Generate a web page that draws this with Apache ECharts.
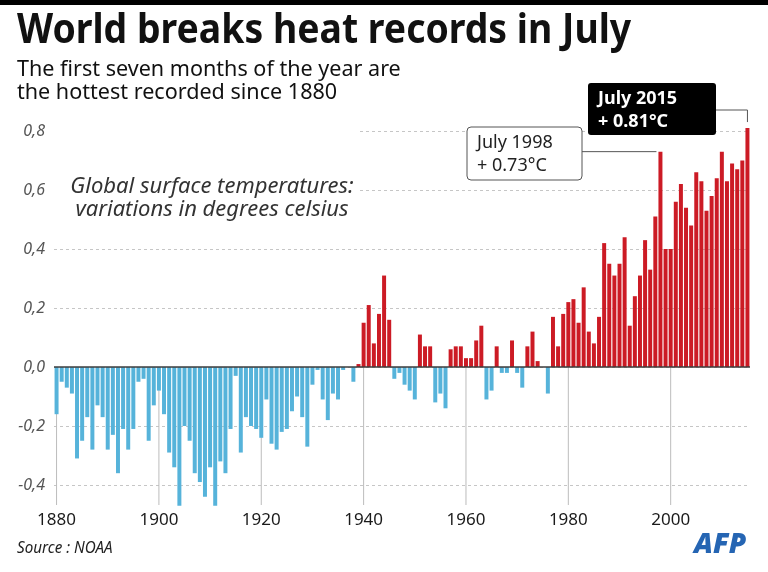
<!DOCTYPE html>
<html lang="en">
<head>
<meta charset="UTF-8">
<title>World breaks heat records in July</title>
<script src="https://cdn.jsdelivr.net/npm/echarts@6/dist/echarts.min.js"></script>
<style>
    html, body { margin: 0; padding: 0; background: #fff; }
    #chart { width: 768px; height: 572px; }
</style>
</head>
<body>
<div id="chart"></div>
<script>
    // July temperature anomalies (deg C), NOAA, 1880-2015
    var years = [];
    for (var y = 1880; y <= 2015; y++) years.push(String(y));

    var anomalies = [
        -0.16, -0.05, -0.07, -0.09, -0.31, -0.25, -0.17, -0.28, -0.13, -0.17,   // 1880
        -0.28, -0.23, -0.36, -0.21, -0.28, -0.21, -0.05, -0.04, -0.25, -0.13,   // 1890
        -0.08, -0.16, -0.29, -0.34, -0.47, -0.20, -0.25, -0.36, -0.39, -0.44,   // 1900
        -0.34, -0.47, -0.32, -0.36, -0.21, -0.03, -0.29, -0.17, -0.20, -0.21,   // 1910
        -0.24, -0.11, -0.26, -0.28, -0.22, -0.21, -0.15, -0.10, -0.17, -0.27,   // 1920
        -0.06, -0.01, -0.11, -0.18, -0.09, -0.11, -0.01, 0.00, -0.05, 0.01,     // 1930
        0.15, 0.21, 0.08, 0.18, 0.31, 0.16, -0.04, -0.02, -0.06, -0.08,         // 1940
        -0.11, 0.11, 0.07, 0.07, -0.12, -0.09, -0.14, 0.06, 0.07, 0.07,         // 1950
        0.03, 0.03, 0.09, 0.14, -0.11, -0.08, 0.07, -0.02, -0.02, 0.09,         // 1960
        -0.02, -0.07, 0.07, 0.12, 0.02, 0.00, -0.09, 0.17, 0.07, 0.18,          // 1970
        0.22, 0.23, 0.15, 0.27, 0.12, 0.08, 0.17, 0.42, 0.35, 0.31,             // 1980
        0.35, 0.44, 0.14, 0.24, 0.31, 0.43, 0.33, 0.51, 0.73, 0.40,             // 1990
        0.40, 0.56, 0.62, 0.54, 0.48, 0.66, 0.63, 0.53, 0.58, 0.64,             // 2000
        0.73, 0.63, 0.69, 0.67, 0.70, 0.81                                      // 2010
    ];

    var yearTicks = ['1880', '1900', '1920', '1940', '1960', '1980', '2000'];
    var yMin = -0.4, yMax = 0.8, yStep = 0.2;

    var records = [
        { year: '1998', value: 0.73 },
        { year: '2015', value: 0.81 }
    ];

    var BLUE = '#56b3da';
    var RED = '#cc1b25';
    var FONT = '"Noto Sans", sans-serif';

    var gridTop = 131, gridBottomY = 485, axisOffset = 20;

    function isTickYear(index, value) {
        return yearTicks.indexOf(value) >= 0;
    }

    var myChart = echarts.init(document.getElementById('chart'));
    var option = {
        backgroundColor: '#fff',
        animation: false,
        grid: { left: 54, right: 18, top: gridTop, bottom: 572 - gridBottomY },
        xAxis: {
            type: 'category',
            data: years,
            offset: axisOffset,
            axisLine: { show: false },
            axisTick: { show: false },
            axisLabel: {
                interval: isTickYear,
                margin: 7,
                fontSize: 17,
                color: '#1a1a1a',
                fontFamily: FONT
            }
        },
        yAxis: {
            type: 'value',
            min: yMin,
            max: yMax,
            interval: yStep,
            axisLine: { show: false },
            axisTick: { show: false },
            splitLine: { lineStyle: { color: '#c6c6c6', type: [3, 3], width: 1 } },
            axisLabel: {
                margin: 9,
                fontSize: 16,
                fontStyle: 'italic',
                color: '#555',
                fontFamily: FONT,
                formatter: function (v) {
                    if (Math.abs(v) < 1e-9) return '0,0';
                    return v.toFixed(1).replace('.', ',');
                }
            }
        },
        series: [{
            // grey year markers running from the zero line down past the plot
            type: 'custom',
            z: 1,
            silent: true,
            data: yearTicks.map(function (t) { return [t, 0]; }),
            renderItem: function (params, api) {
                var top = api.coord([api.value(0), 0]);
                var bot = api.coord([api.value(0), yMin]);
                return {
                    type: 'line',
                    shape: { x1: top[0], y1: top[1], x2: top[0], y2: bot[1] + axisOffset },
                    style: { stroke: '#bcbcbc', lineWidth: 1 }
                };
            }
        }, {
            type: 'bar',
            z: 2,
            data: anomalies,
            barCategoryGap: '22%',
            clip: false,
            itemStyle: {
                color: function (p) { return p.value >= 0 ? RED : BLUE; }
            },
            markLine: {
                silent: true,
                symbol: ['none', 'none'],
                label: { show: false },
                lineStyle: { color: '#3c3c3c', width: 1.5, type: 'solid' },
                data: [{ yAxis: 0 }]
            }
        }]
    };
    myChart.setOption(option);

    // anchors of the two record bars, from the chart's own scales
    var p98 = myChart.convertToPixel({ seriesIndex: 1 }, [records[0].year, records[0].value]);
    var p15 = myChart.convertToPixel({ seriesIndex: 1 }, [records[1].year, records[1].value]);

    function txt(x, y, text, font, fill, extra) {
        var st = { x: x, y: y, text: text, font: font, fill: fill, verticalAlign: 'middle', align: 'left' };
        var el = { type: 'text', z: 10, style: st };
        if (extra) for (var k in extra) el[k] = extra[k];
        return el;
    }

    myChart.setOption({
        graphic: [
            { type: 'rect', z: 10, shape: { x: 0, y: 0, width: 768, height: 5 }, style: { fill: '#000' } },
            // white patch behind the italic caption
            { type: 'rect', z: 1, shape: { x: 50, y: 124, width: 308, height: 98 }, style: { fill: '#fff' } },
            txt(17, 31, 'World breaks heat records in July', 'bold 42px ' + FONT, '#111', { scaleX: 0.89, originX: 17 }),
            txt(17, 70, 'The first seven months of the year are', '22px ' + FONT, '#111', { scaleX: 0.98, originX: 17 }),
            txt(17, 93, 'the hottest recorded since 1880', '22px ' + FONT, '#111', { scaleX: 0.98, originX: 17 }),
            { type: 'text', z: 10, style: { x: 212, y: 187, text: 'Global surface temperatures:', font: 'italic 22px ' + FONT, fill: '#333', align: 'center', verticalAlign: 'middle' } },
            { type: 'text', z: 10, style: { x: 212, y: 210, text: 'variations in degrees celsius', font: 'italic 22px ' + FONT, fill: '#333', align: 'center', verticalAlign: 'middle' } },
            txt(17, 548, 'Source : NOAA', 'italic 16px ' + FONT, '#222', { scaleX: 0.95, originX: 17 }),
            txt(694, 545, 'AFP', 'italic 900 28px ' + FONT, '#2565b3'),

            // July 1998 callout
            { type: 'rect', z: 10, shape: { x: 467, y: 127, width: 115, height: 53, r: 4 }, style: { fill: '#fff', stroke: '#555', lineWidth: 1 } },
            txt(477, 143, 'July 1998', '18px ' + FONT, '#222'),
            txt(477, 166, '+ 0.73°C', '18px ' + FONT, '#222'),
            { type: 'polyline', z: 10, shape: { points: [[582, p98[1]], [p98[0] - 4, p98[1]]] }, style: { stroke: '#555', lineWidth: 1, fill: null } },

            // July 2015 callout
            { type: 'rect', z: 10, shape: { x: 588, y: 83, width: 128, height: 52, r: 3 }, style: { fill: '#000' } },
            txt(598, 99, 'July 2015', 'bold 18px ' + FONT, '#fff'),
            txt(598, 122, '+ 0.81°C', 'bold 18px ' + FONT, '#fff'),
            { type: 'polyline', z: 10, shape: { points: [[716, 110], [p15[0], 110], [p15[0], p15[1] - 6]] }, style: { stroke: '#555', lineWidth: 1, fill: null } }
        ]
    });
</script>
</body>
</html>
